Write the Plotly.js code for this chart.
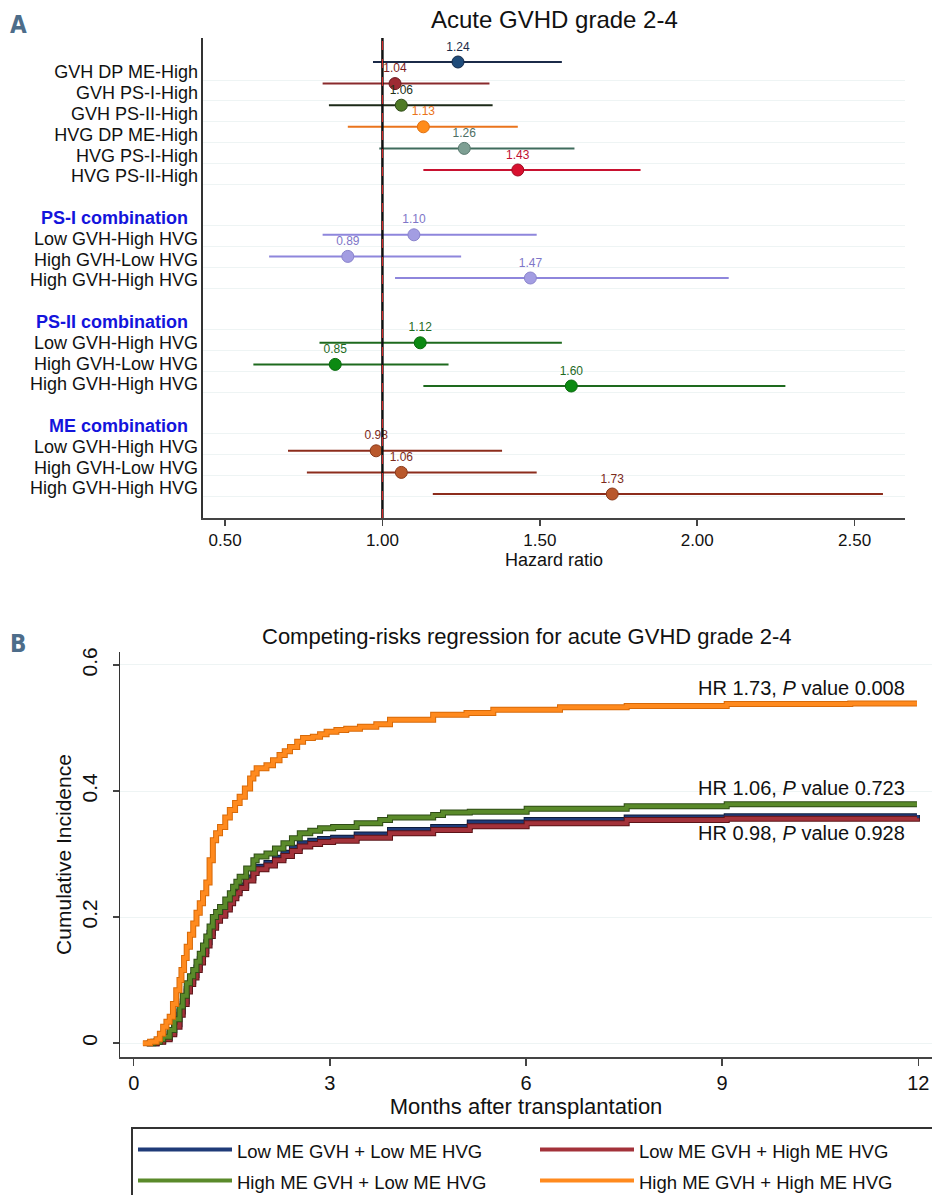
<!DOCTYPE html>
<html><head><meta charset="utf-8">
<script src="https://cdn.plot.ly/plotly-3.0.1.min.js"></script>
<style>html,body{margin:0;padding:0;background:#fff;overflow:hidden}#chart{width:932px;height:1195px}</style>
</head><body><div id="chart"></div>
<script>
// ================= Panel A: forest plot data =================
const rowSlots = [0,1,2,3,4,5, 8,9,10, 13,14,15, 18,19,20];
const hrValues = [1.24,1.04,1.06,1.13,1.26,1.43, 1.10,0.89,1.47, 1.12,0.85,1.60, 0.98,1.06,1.73];
const ciLower  = [0.97,0.81,0.83,0.89,0.99,1.13, 0.81,0.64,1.04, 0.80,0.59,1.13, 0.70,0.76,1.16];
const ciUpper  = [1.57,1.34,1.35,1.43,1.61,1.82, 1.49,1.25,2.10, 1.57,1.21,2.28, 1.38,1.49,2.59];

const labelSlots = [0,1,2,3,4,5,7,8,9,10,12,13,14,15,17,18,19,20];
const labelTexts = ['GVH DP ME-High','GVH PS-I-High','GVH PS-II-High','HVG DP ME-High','HVG PS-I-High','HVG PS-II-High',
  'PS-I combination','Low GVH-High HVG','High GVH-Low HVG','High GVH-High HVG',
  'PS-II combination','Low GVH-High HVG','High GVH-Low HVG','High GVH-High HVG',
  'ME combination','Low GVH-High HVG','High GVH-Low HVG','High GVH-High HVG'];
const headerLabels = ['PS-I combination','PS-II combination','ME combination'];
const hrTicks = [0.5,1.0,1.5,2.0,2.5];

// styles
const markerColors = ['#1f4b7a','#9e2a33','#4e7a26','#ff8c1a','#7d9f93','#d8102e','#a39de2','#a39de2','#a39de2','#0c8a12','#0c8a12','#0c8a12','#b9582c','#b9582c','#b9582c'];
const lineColors   = ['#1b2a48','#8a2a2c','#1c2a18','#ea741c','#3f6c5d','#c81230','#8e86dc','#8e86dc','#8e86dc','#1e6a1e','#1e6a1e','#1e6a1e','#8c2c1c','#8c2c1c','#8c2c1c'];
const textColors   = ['#1b2a48','#7a1c1c','#233018','#ea741c','#4d6f64','#c01030','#7e76c8','#7e76c8','#7e76c8','#1e6a1e','#1e6a1e','#1e6a1e','#7c2a1a','#7c2a1a','#7c2a1a'];
const markerEdges  = ['#12294a','#6a1a20','#2e4a16','#e07010','#5a7a70','#a00a22','#8a84cc','#8a84cc','#8a84cc','#086a0c','#086a0c','#086a0c','#8a3a1a','#8a3a1a','#8a3a1a'];

// ================= Panel B: cumulative incidence data =================
const seriesNames = ['Low ME GVH + Low ME HVG','Low ME GVH + High ME HVG','High ME GVH + Low ME HVG','High ME GVH + High ME HVG'];

const lowLowMonths = [0.20,0.35,0.45,0.55,0.62,0.70,0.75,0.81,0.86,0.91,0.96,1.01,1.06,1.11,1.16,1.21,1.26,1.32,1.40,1.47,1.52,1.57,1.62,1.72,1.83,1.88,2.03,2.16,2.29,2.42,2.54,2.70,2.85,3.05,3.41,3.92,4.58,5.14,6.01,7.54,9.07,11.98];
const lowLowCI     = [0,0.003,0.008,0.017,0.030,0.050,0.066,0.086,0.098,0.108,0.120,0.133,0.146,0.160,0.175,0.188,0.197,0.205,0.216,0.226,0.235,0.243,0.250,0.263,0.274,0.280,0.286,0.294,0.302,0.310,0.317,0.321,0.324,0.326,0.331,0.338,0.343,0.350,0.354,0.358,0.360,0.362];

const lowHighMonths = [0.20,0.35,0.45,0.55,0.62,0.70,0.75,0.81,0.86,0.91,0.96,1.01,1.06,1.11,1.16,1.21,1.26,1.32,1.40,1.47,1.52,1.57,1.62,1.72,1.83,1.88,2.03,2.16,2.29,2.42,2.54,2.70,2.85,3.05,3.41,3.92,4.58,5.14,6.01,7.54,9.07,11.98];
const lowHighCI     = [0,0.002,0.006,0.014,0.026,0.045,0.062,0.082,0.094,0.104,0.116,0.128,0.141,0.155,0.170,0.183,0.194,0.202,0.212,0.222,0.230,0.238,0.246,0.258,0.270,0.276,0.282,0.290,0.297,0.305,0.312,0.316,0.319,0.321,0.326,0.333,0.338,0.344,0.349,0.354,0.356,0.357];

const highLowMonths = [0.20,0.30,0.40,0.45,0.55,0.62,0.70,0.75,0.81,0.86,0.91,0.96,1.01,1.06,1.11,1.16,1.21,1.26,1.32,1.40,1.47,1.52,1.57,1.62,1.72,1.83,1.88,2.03,2.16,2.29,2.42,2.54,2.70,2.85,3.05,3.41,3.77,3.92,4.58,4.73,5.14,6.01,7.54,9.07,11.98];
const highLowCI     = [0,0.002,0.006,0.010,0.021,0.038,0.058,0.075,0.095,0.106,0.116,0.129,0.142,0.155,0.169,0.185,0.200,0.208,0.216,0.228,0.238,0.248,0.256,0.264,0.277,0.290,0.296,0.301,0.309,0.317,0.325,0.333,0.337,0.341,0.343,0.349,0.354,0.358,0.362,0.366,0.367,0.372,0.376,0.379,0.379];

const highHighMonths = [0.14,0.25,0.35,0.40,0.45,0.50,0.55,0.60,0.65,0.70,0.73,0.77,0.81,0.86,0.91,0.96,1.01,1.06,1.11,1.16,1.21,1.26,1.32,1.40,1.47,1.55,1.62,1.70,1.78,1.83,1.88,2.03,2.13,2.23,2.31,2.39,2.50,2.59,2.74,2.85,2.95,3.10,3.25,3.46,3.71,3.92,4.28,4.58,5.09,5.50,6.52,7.54,9.07,10.96,11.98];
const highHighCI     = [0,0.002,0.006,0.015,0.026,0.034,0.042,0.062,0.084,0.100,0.116,0.135,0.153,0.172,0.190,0.207,0.222,0.238,0.255,0.290,0.322,0.333,0.343,0.358,0.370,0.381,0.391,0.404,0.420,0.428,0.436,0.441,0.449,0.457,0.463,0.470,0.478,0.484,0.486,0.490,0.494,0.497,0.499,0.502,0.506,0.513,0.513,0.521,0.524,0.529,0.533,0.535,0.538,0.539,0.539];

const monthTicks = [0,3,6,9,12];
const ciTicks = [0,0.2,0.4,0.6];
const ciTickText = ['0','0.2','0.4','0.6'];
const hrNotes = ['HR 1.73, <i>P</i> value 0.008','HR 1.06, <i>P</i> value 0.723','HR 0.98, <i>P</i> value 0.928'];
const hrNoteY = [0.563,0.405,0.333];

const curveColors   = ['#1f3b78','#a3323a','#5a8a2a','#ff8a1e'];
const curveOutlines = ['#0e1d3c','#5c1418','#2f4c16','#d86a08'];

// ================= build =================
const FONT = 'Liberation Sans, Arial, Helvetica, sans-serif';
const W = 932, H = 1195;
const LEGEND_TOP = 1127;          // legend box top (px); the plot area ends here
const PH = LEGEND_TOP;            // paper height once the legend band is reserved
const px = v => v / W;
const py = v => 1 - v / PH;

const traces = [];
rowSlots.forEach((s, i) => {
  traces.push({
    type: 'scatter', mode: 'markers+text', xaxis: 'x', yaxis: 'y',
    x: [hrValues[i]], y: [s],
    error_x: {type: 'data', symmetric: false, array: [ciUpper[i] - hrValues[i]], arrayminus: [hrValues[i] - ciLower[i]],
              color: lineColors[i], thickness: 2, width: 0},
    marker: {size: 12, color: markerColors[i], line: {color: markerEdges[i], width: 1}},
    text: [hrValues[i].toFixed(2)], textposition: 'top center',
    textfont: {size: 12, color: textColors[i], family: FONT},
    showlegend: false, hoverinfo: 'skip', cliponaxis: false
  });
});
traces.push({type: 'scatter', x: [], y: [], xaxis: 'x', yaxis: 'y2', showlegend: false, hoverinfo: 'skip'});
traces.push({type: 'scatter', x: [], y: [], xaxis: 'x', yaxis: 'y3', showlegend: false, hoverinfo: 'skip'});

const curveMonths = [lowLowMonths, lowHighMonths, highLowMonths, highHighMonths];
const curveCI = [lowLowCI, lowHighCI, highLowCI, highHighCI];
seriesNames.forEach((name, k) => {
  traces.push({type: 'scatter', mode: 'lines', xaxis: 'x2', yaxis: 'y4', x: curveMonths[k], y: curveCI[k],
    line: {shape: 'hv', color: curveOutlines[k], width: 6}, showlegend: false, hoverinfo: 'skip'});
  traces.push({type: 'scatter', mode: 'lines', xaxis: 'x2', yaxis: 'y4', x: curveMonths[k], y: curveCI[k],
    name: '<span style="font-size:18.5px">' + name + '</span>',
    line: {shape: 'hv', color: curveColors[k], width: 4}});
});

const tickText = labelTexts.map(t => headerLabels.includes(t)
  ? '<span style="color:#1414dc;font-weight:bold">' + t + '</span>\u00a0\u00a0'
  : t);

const layout = {
  width: W, height: H, autosize: false, margin: {l: 0, r: 0, t: 0, b: 0, pad: 0},
  paper_bgcolor: '#fff', plot_bgcolor: '#fff',
  font: {family: FONT, color: '#111'},
  xaxis: {domain: [px(203), px(905)], anchor: 'y', range: [0.43, 2.66], tickvals: hrTicks, tickformat: '.2f',
    ticks: 'outside', ticklen: 6, tickwidth: 1.5, tickcolor: '#444', showline: true, linecolor: '#444', linewidth: 2,
    showgrid: false, zeroline: false, tickfont: {size: 17, color: '#111'},
    title: {text: 'Hazard ratio', font: {size: 18, color: '#111'}, standoff: 4}},
  yaxis: {domain: [py(518), py(38)], anchor: 'x', range: [21.111, -1.111], showline: true, linecolor: '#333', linewidth: 2,
    showticklabels: false, showgrid: false, zeroline: false, ticks: ''},
  yaxis2: {overlaying: 'y', anchor: 'x', side: 'left', range: [21.442, -1.6346], tickvals: labelSlots, ticktext: tickText,
    showgrid: false, showline: false, zeroline: false, ticks: '', ticklabelstandoff: 4, tickfont: {size: 18, color: '#111'}},
  yaxis3: {overlaying: 'y', anchor: 'x', side: 'left', range: [21.057, -2.019], tickvals: labelSlots, showticklabels: false,
    showgrid: true, gridcolor: '#eef4f4', gridwidth: 1, showline: false, zeroline: false, ticks: ''},
  xaxis2: {domain: [px(120), 1], anchor: 'y4', range: [-0.21, 12.21], tickvals: monthTicks,
    ticks: 'outside', ticklen: 7, tickwidth: 1.5, tickcolor: '#444', showline: true, linecolor: '#444', linewidth: 2,
    showgrid: false, zeroline: false, tickfont: {size: 20, color: '#111'},
    title: {text: 'Months after transplantation', font: {size: 22, color: '#111'}, standoff: 4}},
  yaxis4: {domain: [py(1057), py(652)], anchor: 'x2', range: [-0.022, 0.6206], tickvals: ciTicks, ticktext: ciTickText,
    tickangle: -90, ticks: 'outside', ticklen: 6, tickwidth: 1.5, tickcolor: '#444', showline: true, linecolor: '#333', linewidth: 1.5,
    showgrid: true, gridcolor: '#eef4f4', zeroline: false, tickfont: {size: 21, color: '#111'}, ticklabelstandoff: 7,
    title: {text: 'Cumulative Incidence', font: {size: 21, color: '#111'}, standoff: 0}},
  shapes: [
    {type: 'line', xref: 'x', yref: 'y domain', x0: 1, x1: 1, y0: 0, y1: 1, line: {color: '#111', width: 2.5}},
    {type: 'line', xref: 'x', yref: 'y domain', x0: 1, x1: 1, y0: 0, y1: 1, line: {color: '#e02828', width: 1, dash: 'dash'}}
  ],
  annotations: [
    {xref: 'paper', yref: 'paper', x: px(554), y: py(20), text: 'Acute GVHD grade 2-4', showarrow: false,
      xanchor: 'center', yanchor: 'middle', font: {size: 24, color: '#111'}},
    {xref: 'paper', yref: 'paper', x: px(526), y: py(636), text: 'Competing-risks regression for acute GVHD grade 2-4', showarrow: false,
      xanchor: 'center', yanchor: 'middle', font: {size: 22, color: '#111'}},
    {xref: 'paper', yref: 'paper', x: px(18), y: py(25), text: '<b>A</b>', showarrow: false, xanchor: 'center', yanchor: 'middle',
      font: {size: 24, color: '#4d6d8a', family: 'DejaVu Sans Condensed, DejaVu Sans, sans-serif'}},
    {xref: 'paper', yref: 'paper', x: px(18), y: py(644), text: '<b>B</b>', showarrow: false, xanchor: 'center', yanchor: 'middle',
      font: {size: 24, color: '#4d6d8a', family: 'DejaVu Sans Condensed, DejaVu Sans, sans-serif'}}
  ].concat(hrNotes.map((t, i) => ({xref: 'x2', yref: 'y4', x: 11.83, y: hrNoteY[i], text: t, showarrow: false,
      xanchor: 'right', yanchor: 'middle', font: {size: 20, color: '#111'}}))),
  legend: {orientation: 'h', xref: 'container', yref: 'container', x: 131 / W, xanchor: 'left',
    y: 1 - LEGEND_TOP / H, yanchor: 'top', bgcolor: '#fff',
    bordercolor: '#333', borderwidth: 2, font: {size: 21.5, color: '#111'}, itemwidth: 94, entrywidth: 293,
    traceorder: 'normal'}
};

Plotly.newPlot('chart', traces, layout, {displayModeBar: false, staticPlot: true});
</script></body></html>
